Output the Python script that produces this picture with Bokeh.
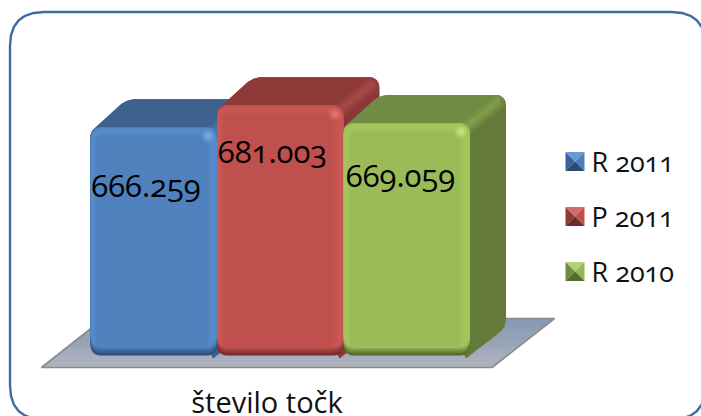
import numpy as np
from bokeh.plotting import figure
from bokeh.embed import file_html
from bokeh.resources import INLINE
from bokeh.core.properties import value
from bokeh.models import Range1d

# ---- data ----
series = ["R 2011", "P 2011", "R 2010"]
values = [666.259, 681.003, 669.059]
value_labels = ["666.259", "681.003", "669.059"]
category = "število točk"

# ---- styles ----
FACE = ["#4f81bd", "#c0504d", "#9bbb59"]
LIGHT = ["#5a8fcf", "#cf5b58", "#a8cb60"]
HOT = ["#86b4ee", "#ee7c78", "#cdee80"]
TOP = ["#3d628f", "#8e3a38", "#6f8c42"]
TOPEDGE = ["#6f9ad0", "#c9605d", "#9cbc58"]
SIDE = ["#3a5f8c", "#8a3836", "#647a38"]
DARK = ["#2b4c75", "#702b2a", "#4f6426"]
LEG_L = ["#3a6299", "#8f3a38", "#6f8a40"]
LEG_T = ["#6b9ad3", "#d46d6a", "#b3cf78"]
LEG_R = ["#4d7fbe", "#bd4f4c", "#97b656"]
LEG_B = ["#2c4a70", "#6b2b2a", "#566a30"]
FONT = "Open Sans"
BASELINE_FIX = 0.37       # em: the svg text sits this far below the requested baseline

W, H = 701, 416
PX_PER_UNIT = 1.49        # pixels per value unit
BASE_PX = 355.0           # y of the bars' foot
BASE_VAL = 513.0          # value at the bars' foot
BAR_PX = 126.5            # pixels per category slot
X0_PX = 90.0              # x of first slot's left edge
DX, DY = 36.0, 28.0       # 3-D depth offset in px
R = 11.0


def ypx(v):
    return BASE_PX - (np.asarray(v) - BASE_VAL) * PX_PER_UNIT


def mix(a, b, t):
    ca = [int(a[i:i + 2], 16) for i in (1, 3, 5)]
    cb = [int(b[i:i + 2], 16) for i in (1, 3, 5)]
    return "#%02x%02x%02x" % tuple(int(round(x + (y - x) * t)) for x, y in zip(ca, cb))


p = figure(width=W, height=H, output_backend="svg", toolbar_location=None,
           x_range=Range1d(0, W), y_range=Range1d(H, 0),
           min_border=0, outline_line_color=None, background_fill_color="white",
           border_fill_color="white")
p.xaxis.visible = False
p.yaxis.visible = False
p.grid.visible = False
p.styles = {"font-feature-settings": '"onum"', "font-variant-numeric": "oldstyle-nums"}


def round_poly(pts, radii, n=7):
    """polygon with rounded corners (quadratic), in pixels"""
    xs, ys = [], []
    m = len(pts)
    for i in range(m):
        P = np.array(pts[i], float)
        A = np.array(pts[i - 1], float)
        B = np.array(pts[(i + 1) % m], float)
        r = radii[i]
        if r <= 0:
            xs.append(P[0]); ys.append(P[1])
            continue
        u = (A - P) / np.linalg.norm(A - P)
        v = (B - P) / np.linalg.norm(B - P)
        s, e = P + u * r, P + v * r
        for t in np.linspace(0, 1, n):
            q = (1 - t) ** 2 * s + 2 * t * (1 - t) * P + t ** 2 * e
            xs.append(q[0]); ys.append(q[1])
    return xs, ys


def rrect(x0, y0, x1, y1, r):
    return round_poly([(x0, y0), (x1, y0), (x1, y1), (x0, y1)], [r] * 4)


def label(x, y, s, size, color, align):
    p.text([x], [y - BASELINE_FIX * size], text=[s], text_font=value(FONT),
           text_font_size=f"{size}px", text_color=color, text_align=align,
           text_baseline="alphabetic")


# ---- frame ----
fx, fy = rrect(9.5, 11.5, 705, 419, 34)
p.patch(fx + fx[:1], fy + fy[:1], fill_color="white", line_color="#3f6b9f", line_width=2.4)

# ---- floor, shaded in bands ----
fl = (41.0, 491.5, 554.0, 103.0, 367.0, 318.0)
NB = 24
for i in range(NB):
    a, b = i / NB, (i + 1) / NB
    lx = lambda t: fl[0] + (fl[3] - fl[0]) * t
    rx = lambda t: fl[1] + (fl[2] - fl[1]) * t
    yy = lambda t: fl[4] + (fl[5] - fl[4]) * t
    col = mix("#b0b3bc", "#8396b2", (a + b) / 2)
    p.patch([lx(a), rx(a), rx(b), lx(b)], [yy(a), yy(a), yy(b), yy(b)],
            fill_color=col, line_color=col, line_width=0.6)
p.line([fl[3], fl[0], fl[1], fl[2], fl[3]], [fl[5], fl[4], fl[4], fl[5], fl[5]],
       line_color="#8c8c8c", line_width=1.6)

# ---- bars ----
for i, v in enumerate(values):
    x0 = X0_PX + i * BAR_PX
    x1 = x0 + BAR_PX
    yt = float(ypx(v))
    yb = BASE_PX
    # silhouette of the depth part
    sx, sy = round_poly([(x0 + 2, yt + 3), (x0 + DX, yt - DY), (x1 + DX, yt - DY),
                         (x1 + DX, yb - DY), (x1 - 4, yb + 3)], [0, 10, 11, 9, 0])
    p.patch(sx, sy, fill_color=SIDE[i], line_color=None)
    # top face
    tx, ty = round_poly([(x0 + 2, yt + 3), (x0 + DX, yt - DY), (x1 + DX, yt - DY), (x1, yt + 3)],
                        [0, 10, 11, 0])
    p.patch(tx, ty, fill_color=TOP[i], line_color=None)
    # soft lit diagonal edge between top and side
    for w, al in [(15, 0.12), (10, 0.16), (5, 0.2)]:
        p.line([x1 - 2, x1 + DX - 8], [yt + 4, yt - DY + 8], line_color=TOPEDGE[i],
               line_width=w, line_alpha=al, line_cap="round")
    # front: dark foot fading up into the bevel
    N = 9
    for k in range(N):
        fxs, fys = rrect(x0, yt, x1, yb - k, R)
        p.patch(fxs, fys, fill_color=mix(DARK[i], FACE[i], k / (N - 1)), line_color=None)
    # bevel fading into the plain face
    N = 8
    for k in range(N):
        t = k / (N - 1)
        c = mix(LIGHT[i], FACE[i], t) if t > 0.15 else mix(FACE[i], LIGHT[i], 0.6)
        bx, by = rrect(x0 + 7 * t, yt + 1 + 9 * t, x1 - 11 * t, yb - 8 - 1 * t, R * (1 - t) + 3)
        p.patch(bx, by, fill_color=c, line_color=None)
    # soft hot spot at the top-right of the bevel
    for rad, al in [(7, 0.15), (5, 0.3), (3, 0.5)]:
        p.scatter([x1 - 9], [yt + 9], size=rad * 2, marker="circle",
                  fill_color=HOT[i], fill_alpha=al, line_color=None)

# ---- value labels ----
lab_x = [148.0, 274.5, 402.5]
lab_off = [70.0, 58.0, 64.0]
for i, v in enumerate(values):
    label(lab_x[i], float(ypx(v)) + lab_off[i], value_labels[i], 31, "black", "center")

# ---- legend ----
leg_y = [161.0, 216.0, 271.0]
S = 9.5
for i, name in enumerate(series):
    cx, cy = 574.5, leg_y[i]
    l, r, t, b = cx - S, cx + S, cy - S, cy + S
    p.patch([l, cx, l], [t, cy, b], fill_color=LEG_L[i], line_color=None)
    p.patch([l, r, cx], [t, t, cy], fill_color=LEG_T[i], line_color=None)
    p.patch([r, cx, r], [t, cy, b], fill_color=LEG_R[i], line_color=None)
    p.patch([l, cx, r], [b, cy, b], fill_color=LEG_B[i], line_color=None)
    label(591.0, cy + 9.5, name, 27, "#111111", "left")

# ---- category label ----
label(266.5, 412.0, category, 29, "#111111", "center")

open("out.html", "w").write(file_html(p, INLINE))
